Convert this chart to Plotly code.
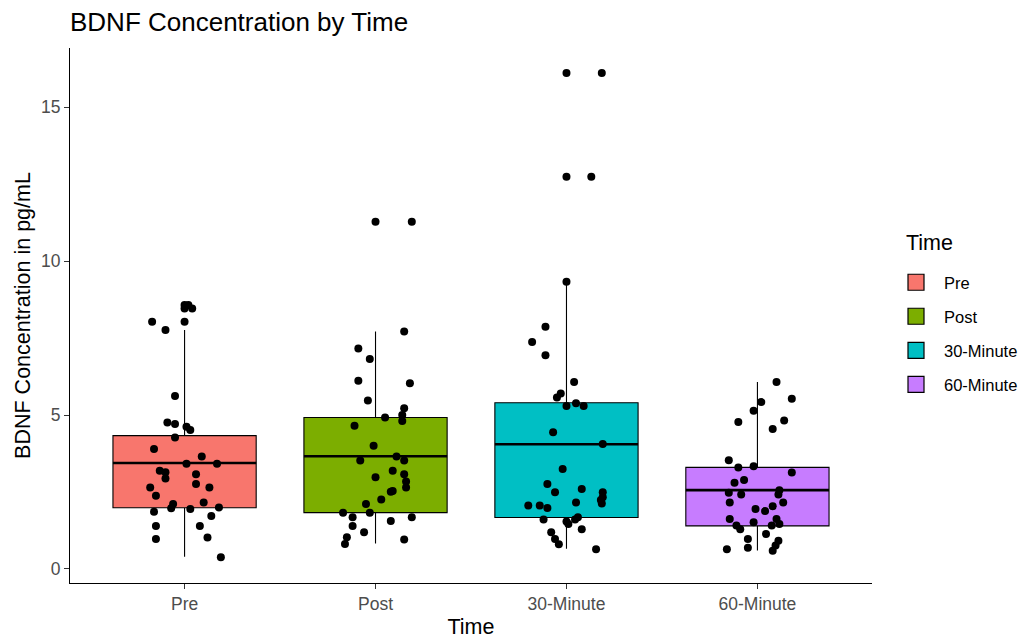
import plotly.graph_objects as go

groups = ["Pre", "Post", "30-Minute", "60-Minute"]
colors = ["#F8766D", "#7CAE00", "#00BFC4", "#C77CFF"]

# box statistics
q1 = [1.99, 1.83, 1.67, 1.40]
median = [3.44, 3.66, 4.05, 2.56]
q3 = [4.33, 4.92, 5.40, 3.30]
lower_fence = [0.40, 0.83, 0.66, 0.60]
upper_fence = [7.76, 7.71, 9.33, 6.07]

# outliers drawn by the boxplot layer
pre_out = [8.57, 8.46, 8.03]
post_out = [11.28]
m30_out = [16.11, 12.74]
m60_out = []

# jittered observations: values and horizontal jitter offsets
pre_val = [8.57, 8.46, 8.03, 7.76, 5.62, 4.76, 4.71, 4.62, 4.51, 4.27, 3.90, 3.65,
           3.42, 3.42, 3.19, 3.14, 2.94, 3.08, 2.65, 2.76, 2.65, 2.38, 2.16, 2.11,
           1.97, 1.95, 2.00, 1.86, 1.72, 1.40, 1.40, 0.97, 1.02, 0.38]
pre_jit = [0.02, 0.04, -0.17, -0.10, -0.05, -0.09, -0.05, 0.01, 0.03, -0.05, -0.16, 0.09,
           0.01, 0.17, -0.13, -0.10, -0.10, 0.06, -0.18, 0.06, 0.13, -0.15, 0.10, -0.06,
           -0.07, 0.03, 0.18, -0.16, 0.14, -0.15, 0.08, -0.15, 0.12, 0.19]

post_val = [11.28, 7.71, 7.16, 6.82, 6.11, 6.03, 5.47, 5.22, 5.00, 4.92, 4.81, 4.65,
            4.00, 3.52, 3.65, 3.52, 3.19, 3.08, 2.98, 2.84, 2.65, 2.53, 2.51, 2.26,
            2.11, 1.83, 1.83, 1.68, 1.56, 1.68, 1.40, 1.19, 1.03, 0.81, 0.96]
post_jit = [0.19, 0.15, -0.09, -0.03, -0.09, 0.18, -0.04, 0.15, 0.14, 0.05, 0.14, -0.11,
            -0.01, -0.08, 0.11, 0.15, 0.09, 0.15, 0.00, 0.16, 0.16, 0.09, 0.08, 0.03,
            -0.05, -0.17, -0.03, -0.12, 0.08, 0.19, -0.12, -0.06, -0.15, -0.16, 0.15]

m30_val = [16.11, 12.74, 9.33, 7.87, 7.37, 6.94, 6.07, 5.70, 5.57, 5.29, 5.38, 5.29,
           4.44, 4.06, 3.25, 2.76, 2.60, 2.49, 2.49, 2.33, 2.24, 2.13, 2.16, 2.06,
           2.06, 1.98, 1.61, 1.54, 1.46, 1.61, 1.68, 1.29, 1.19, 0.97, 0.80, 0.64]
m30_jit = [0.185, 0.13, 0.00, -0.11, -0.18, -0.11, 0.04, -0.03, -0.05, 0.00, 0.05, 0.09,
           -0.07, 0.19, -0.02, -0.10, 0.08, -0.06, 0.19, 0.19, 0.18, 0.185, 0.05, -0.20,
           -0.14, -0.10, -0.12, 0.00, 0.01, 0.045, 0.06, 0.08, -0.08, -0.06, -0.04, 0.155]

m60_val = [6.07, 5.53, 5.42, 5.14, 4.82, 4.77, 4.55, 3.53, 3.30, 3.34, 3.13, 2.80,
           2.89, 2.48, 2.42, 2.56, 2.42, 2.16, 2.16, 2.04, 1.95, 1.88, 1.62, 1.41,
           1.29, 1.52, 1.62, 1.46, 1.41, 1.14, 0.97, 0.92, 0.76, 0.69, 0.64, 0.59]
m60_jit = [0.10, 0.18, 0.02, -0.02, 0.14, -0.10, 0.08, -0.15, -0.10, -0.02, 0.18, -0.12,
           -0.07, -0.15, -0.085, 0.115, 0.11, -0.145, 0.135, 0.08, -0.01, 0.04, -0.145, -0.11,
           -0.09, -0.02, 0.10, 0.115, 0.075, 0.045, -0.05, 0.11, 0.095, -0.05, -0.16, 0.08]

outliers = [pre_out, post_out, m30_out, m60_out]
values = [pre_val, post_val, m30_val, m60_val]
jitters = [pre_jit, post_jit, m30_jit, m60_jit]

BOX_W = 0.75
FONT = "Liberation Sans, Arial, sans-serif"
# page has an 8px default body margin
PAGE_OFF = 8
FIG_W, FIG_H = 1029 - PAGE_OFF, 639 - PAGE_OFF
PLOT_L, PLOT_R, PLOT_T, PLOT_B = 70, 872, 48, 583  # page coords of plotting panel
PW, PH = PLOT_R - PLOT_L, PLOT_B - PLOT_T

fig = go.Figure()

for i, g in enumerate(groups):
    pos = i + 1
    fig.add_trace(go.Box(
        x=[pos], q1=[q1[i]], median=[median[i]], q3=[q3[i]],
        lowerfence=[lower_fence[i]], upperfence=[upper_fence[i]],
        width=BOX_W, whiskerwidth=0, fillcolor=colors[i],
        line=dict(color="black", width=1.1), name=g,
        legendgroup=g, showlegend=False, boxpoints=False, hoverinfo="skip"))
    # legend key
    fig.add_trace(go.Scatter(
        x=[None], y=[None], mode="markers", name=g, legendgroup=g, showlegend=True,
        marker=dict(symbol="square", size=16, color=colors[i],
                    line=dict(color="black", width=1.2))))

for i, g in enumerate(groups):
    pos = i + 1
    fig.add_trace(go.Scatter(
        x=[pos - BOX_W / 2, pos + BOX_W / 2], y=[median[i], median[i]],
        mode="lines", line=dict(color="black", width=2.6),
        showlegend=False, legendgroup=g, hoverinfo="skip"))
    if outliers[i]:
        fig.add_trace(go.Scatter(
            x=[pos] * len(outliers[i]), y=outliers[i], mode="markers",
            marker=dict(color="black", size=8), showlegend=False, legendgroup=g))
    fig.add_trace(go.Scatter(
        x=[pos + j for j in jitters[i]], y=values[i], mode="markers",
        marker=dict(color="black", size=8), showlegend=False, legendgroup=g))

axis_font = dict(family=FONT, size=17.5, color="#4D4D4D")
title_font = dict(family=FONT, size=21.5, color="black")

fig.update_layout(
    width=FIG_W, height=FIG_H,
    margin=dict(l=PLOT_L - PAGE_OFF, r=FIG_W + PAGE_OFF - PLOT_R,
                t=PLOT_T - PAGE_OFF, b=639 - PLOT_B, autoexpand=False),
    paper_bgcolor="white", plot_bgcolor="white",
    boxmode="overlay",
    title=dict(text="BDNF Concentration by Time", x=(70 - PAGE_OFF) / FIG_W, xanchor="left",
               y=1 - (22 - PAGE_OFF) / FIG_H, yanchor="middle", automargin=False,
               font=dict(family=FONT, size=26, color="black")),
    xaxis=dict(range=[0.4, 4.6], tickmode="array", tickvals=[1, 2, 3, 4], ticktext=groups,
               showline=True, linecolor="black", linewidth=1.2, ticks="outside",
               ticklen=5, tickcolor="#333333", showgrid=False, zeroline=False,
               automargin=False, ticklabelstandoff=0,
               tickfont=axis_font, title=dict(text="Time", font=title_font, standoff=11)),
    yaxis=dict(range=[-0.455, 16.92], tickvals=[0, 5, 10, 15],
               showline=True, linecolor="black", linewidth=1.2, ticks="outside",
               ticklen=5, tickcolor="#333333", showgrid=False, zeroline=False,
               automargin=False,
               tickfont=axis_font,
               title=dict(text="BDNF Concentration in pg/mL", font=title_font, standoff=4)),
    legend=dict(x=(888 - PLOT_L) / PW, xanchor="left", y=(PLOT_B - 265) / PH, yanchor="top",
                font=dict(family=FONT, size=16.5, color="black"),
                itemwidth=46, tracegroupgap=9.6, bgcolor="rgba(0,0,0,0)"),
    annotations=[dict(text="Time", xref="paper", yref="paper",
                      x=(904 - PLOT_L) / PW, xanchor="left",
                      y=(PLOT_B - 243) / PH, yanchor="middle", showarrow=False,
                      font=dict(family=FONT, size=21.5, color="black"))],
)

fig.write_html("out.html", config={"displayModeBar": False})
